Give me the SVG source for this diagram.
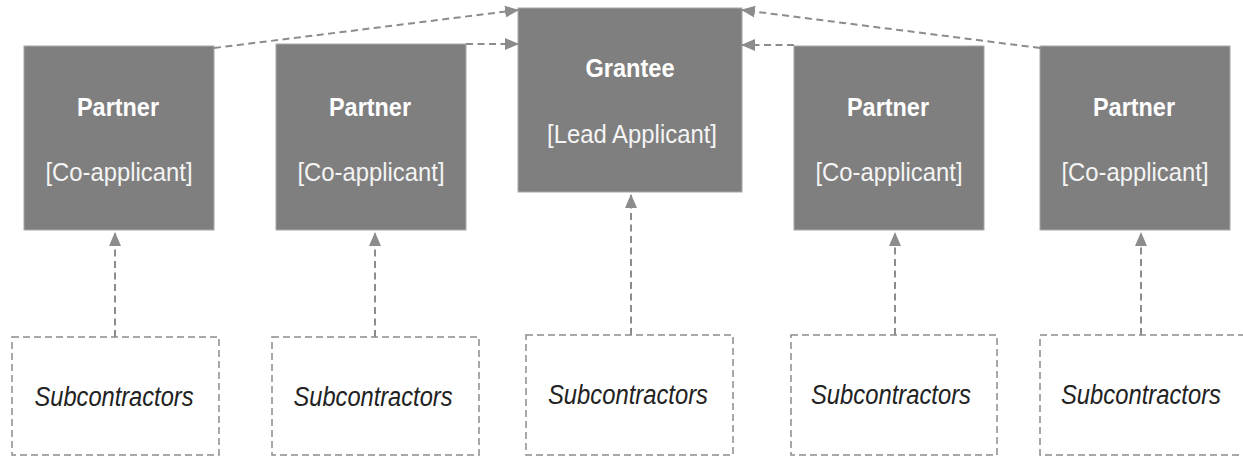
<svg xmlns="http://www.w3.org/2000/svg" width="1243" height="456" viewBox="0 0 1243 456">
<style>
.node{fill:#7f7f7f;stroke:#a8a8a8;stroke-width:1}
.sub{fill:#ffffff;stroke:#8c8c8c;stroke-width:1.5;stroke-dasharray:7 4}
.t1{font-family:"Liberation Sans",Arial,sans-serif;font-weight:bold;font-size:26px;fill:#ffffff;text-anchor:middle}
.t2{font-family:"Liberation Sans",Arial,sans-serif;font-size:26px;fill:#f4f4f4;text-anchor:middle}
.ts{font-family:"Liberation Sans",Arial,sans-serif;font-style:italic;font-size:27px;fill:#222222;text-anchor:middle}
.edge{fill:none;stroke:#8c8c8c;stroke-width:2;stroke-dasharray:7 4.5}
</style>
<defs>
<marker id="ah" viewBox="0 0 14 12" refX="13" refY="6" markerWidth="14" markerHeight="12" markerUnits="userSpaceOnUse" orient="auto">
<path d="M0,0 L14,6 L0,12 Z" fill="#8c8c8c"/>
</marker>
</defs>
<rect width="1243" height="456" fill="#ffffff"/>
<g id="grantee">
<rect class="node" x="518" y="8" width="224" height="184"/>
<text class="t1" x="630" y="77" textLength="89" lengthAdjust="spacingAndGlyphs">Grantee</text>
<text class="t2" x="632" y="143" textLength="170" lengthAdjust="spacingAndGlyphs">[Lead Applicant]</text>
</g>
<g id="partner1">
<rect class="node" x="24" y="46" width="190" height="184"/>
<text class="t1" x="118" y="116" textLength="82" lengthAdjust="spacingAndGlyphs">Partner</text>
<text class="t2" x="119" y="181" textLength="147" lengthAdjust="spacingAndGlyphs">[Co-applicant]</text>
</g>
<g id="partner2">
<rect class="node" x="276" y="44" width="190" height="186"/>
<text class="t1" x="370" y="116" textLength="82" lengthAdjust="spacingAndGlyphs">Partner</text>
<text class="t2" x="371" y="181" textLength="147" lengthAdjust="spacingAndGlyphs">[Co-applicant]</text>
</g>
<g id="partner3">
<rect class="node" x="794" y="46" width="190" height="184"/>
<text class="t1" x="888" y="116" textLength="82" lengthAdjust="spacingAndGlyphs">Partner</text>
<text class="t2" x="889" y="181" textLength="147" lengthAdjust="spacingAndGlyphs">[Co-applicant]</text>
</g>
<g id="partner4">
<rect class="node" x="1040" y="46" width="190" height="184"/>
<text class="t1" x="1134" y="116" textLength="82" lengthAdjust="spacingAndGlyphs">Partner</text>
<text class="t2" x="1135" y="181" textLength="147" lengthAdjust="spacingAndGlyphs">[Co-applicant]</text>
</g>
<g id="sub1">
<rect class="sub" x="12" y="337" width="207" height="118"/>
<text class="ts" x="114" y="406" textLength="159" lengthAdjust="spacingAndGlyphs">Subcontractors</text>
</g>
<g id="sub2">
<rect class="sub" x="272" y="337" width="207" height="118"/>
<text class="ts" x="373" y="406" textLength="159" lengthAdjust="spacingAndGlyphs">Subcontractors</text>
</g>
<g id="sub3">
<rect class="sub" x="526" y="335" width="207" height="120"/>
<text class="ts" x="628" y="404" textLength="160" lengthAdjust="spacingAndGlyphs">Subcontractors</text>
</g>
<g id="sub4">
<rect class="sub" x="791" y="335" width="206" height="120"/>
<text class="ts" x="891" y="404" textLength="160" lengthAdjust="spacingAndGlyphs">Subcontractors</text>
</g>
<g id="sub5">
<rect class="sub" x="1040" y="335" width="210" height="120"/>
<text class="ts" x="1141" y="404" textLength="160" lengthAdjust="spacingAndGlyphs">Subcontractors</text>
</g>
<g id="connectors">
<line class="edge" x1="214" y1="48" x2="518" y2="10" marker-end="url(#ah)"/>
<line class="edge" x1="466" y1="44" x2="518" y2="44" marker-end="url(#ah)"/>
<line class="edge" x1="794" y1="45" x2="742" y2="45" marker-end="url(#ah)"/>
<line class="edge" x1="1040" y1="48" x2="742" y2="10" marker-end="url(#ah)"/>
<line class="edge" x1="115" y1="337" x2="115" y2="233" marker-end="url(#ah)"/>
<line class="edge" x1="375" y1="337" x2="375" y2="233" marker-end="url(#ah)"/>
<line class="edge" x1="631" y1="335" x2="631" y2="195" marker-end="url(#ah)"/>
<line class="edge" x1="895" y1="335" x2="895" y2="233" marker-end="url(#ah)"/>
<line class="edge" x1="1141" y1="335" x2="1141" y2="233" marker-end="url(#ah)"/>
</g>
</svg>
